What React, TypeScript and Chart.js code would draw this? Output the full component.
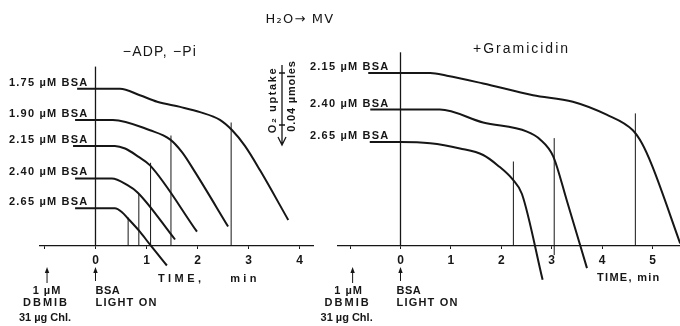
import React, { useEffect, useRef } from 'react';
import { Chart, registerables } from 'chart.js';

Chart.register(...registerables);

const FONT = '"Liberation Sans", Arial, Helvetica, sans-serif';
const INK = '#161616';

// ---------- Left panel: −ADP, −Pi (time in min, O2 trace in nmol above baseline) ----------
const leftTicks = [-1, 0, 1, 2, 3, 4];
const leftTickLabels = ['', '0', '1', '2', '3', '4'];
const leftBsa = ['1.75', '1.90', '2.15', '2.40', '2.65'];

const l175T = [-0.36, 0, 0.48, 0.87, 1.21, 1.66, 2.05, 2.44, 2.68, 2.93, 3.23, 3.78];
const l175Y = [121, 121, 121, 116, 111, 107, 103, 97, 89, 77, 58, 20];
const l190T = [-0.4, 0, 0.34, 1.07, 1.46, 1.7, 1.95, 2.6];
const l190Y = [97, 97, 97, 89, 82, 72, 57, 15];
const l215T = [-0.44, 0, 0.38, 0.58, 0.83, 1.07, 1.99];
const l215Y = [77, 77, 77, 75, 69, 62, 11];
const l240T = [-0.4, 0, 0.32, 0.62, 0.83, 1.56];
const l240Y = [52, 52, 52, 47, 41, 5];
const l265T = [-0.4, 0, 0.38, 0.52, 0.64, 0.87, 1.07, 1.4];
const l265Y = [29, 29, 29, 26, 21, 11, 1, -15];

const leftMarkT = [0.64, 0.85, 1.08, 1.48, 2.66];
const leftMarkTop = [22, 40, 64, 85, 95];
const leftMarkBottom = [0, 0, 0, 0, 0];
const leftLightLineTop = 138;

// ---------- Right panel: +Gramicidin ----------
const rightTicks = [-1, 0, 1, 2, 3, 4, 5];
const rightTickLabels = ['', '0', '1', '2', '3', '4', '5'];
const rightBsa = ['2.15', '2.40', '2.65'];

const r215T = [-0.64, 0, 0.59, 0.92, 1.64, 2.63, 3.42, 4.09, 4.61, 4.79, 4.99, 5.55];
const r215Y = [133, 133, 133, 131, 125, 116, 111, 101, 89, 79, 62, 2];
const r240T = [-0.6, 0, 0.78, 1.64, 2.51, 2.77, 3.03, 3.3, 3.7];
const r240Y = [105, 105, 105, 95, 88, 82, 69, 35, -17];
const r265T = [-0.61, 0, 0.59, 1.18, 1.64, 1.93, 2.23, 2.41, 2.82];
const r265Y = [80, 80, 79, 75, 70, 62, 51, 40, -26];

const rightMarkT = [2.24, 3.05, 4.66];
const rightMarkTop = [65, 83, 102];
const rightMarkBottom = [0, -7, 0];
const rightLightLineTop = 149;

// events
const dbmibTime = -0.95;
const lightTime = 0;
const scaleBarNmol = 40;

function pts(t: number[], y: number[]) {
  return t.map((v, i) => ({ x: v, y: y[i] }));
}

function txt(ctx: CanvasRenderingContext2D, s: string, x: number, y: number, o: any = {}) {
  ctx.save();
  ctx.font = `${o.weight ?? 'bold'} ${o.size ?? 11}px ${o.family ?? FONT}`;
  ctx.fillStyle = INK;
  ctx.textAlign = o.align ?? 'left';
  ctx.textBaseline = 'middle';
  (ctx as any).letterSpacing = `${o.ls ?? 0}px`;
  if (o.rotate) {
    ctx.translate(x, y);
    ctx.rotate(o.rotate);
    ctx.fillText(s, 0, 0);
  } else {
    ctx.fillText(s, x, y);
  }
  ctx.restore();
}

function upArrow(ctx: CanvasRenderingContext2D, x: number, yTip: number, yTail: number) {
  ctx.save();
  ctx.strokeStyle = INK;
  ctx.fillStyle = INK;
  ctx.lineWidth = 1;
  ctx.beginPath();
  ctx.moveTo(x, yTail);
  ctx.lineTo(x, yTip + 3);
  ctx.stroke();
  ctx.beginPath();
  ctx.moveTo(x, yTip);
  ctx.lineTo(x - 2.2, yTip + 6);
  ctx.lineTo(x + 2.2, yTip + 6);
  ctx.closePath();
  ctx.fill();
  ctx.restore();
}

function bottomNotes(ctx: CanvasRenderingContext2D, chart: any, dOff: number, lOff: number) {
  const xs = chart.scales.x;
  const xd = xs.getPixelForValue(dbmibTime);
  const xl = xs.getPixelForValue(lightTime);
  upArrow(ctx, xd, 267, 283);
  upArrow(ctx, xl, 267, 281);
  txt(ctx, '1 µM', xd + dOff + 1, 291, { align: 'center', ls: 1 });
  txt(ctx, 'DBMIB', xd + dOff, 303, { align: 'center', ls: 2 });
  txt(ctx, '31 µg Chl.', xd + dOff - 1, 318, { align: 'center', ls: 0 });
  txt(ctx, 'BSA', xl + lOff, 291, { ls: 0.5 });
  txt(ctx, 'LIGHT ON', xl + lOff, 303, { ls: 1.2 });
}

function baseDatasets(curves: { t: number[]; y: number[] }[], markT: number[], markTop: number[], markBottom: number[], lightTop: number) {
  const ds: any[] = [];
  ds.push({
    data: [{ x: lightTime, y: 0 }, { x: lightTime, y: lightTop }],
    borderColor: INK, borderWidth: 1.3, pointRadius: 0, clip: false, tension: 0,
  });
  markT.forEach((t, i) => {
    ds.push({
      data: [{ x: t, y: markBottom[i] }, { x: t, y: markTop[i] }],
      borderColor: INK, borderWidth: 1, pointRadius: 0, clip: false, tension: 0,
    });
  });
  curves.forEach((c) => {
    ds.push({
      data: pts(c.t, c.y),
      borderColor: INK, borderWidth: 2, pointRadius: 0, clip: false,
      cubicInterpolationMode: 'monotone', borderCapStyle: 'butt', borderJoinStyle: 'round',
    });
  });
  return ds;
}

function makeOptions(xMin: number, xMax: number, yMax: number, pad: any, ticks: number[], labels: string[]) {
  return {
    responsive: false,
    animation: false,
    events: [],
    layout: { padding: pad },
    plugins: { legend: { display: false }, tooltip: { enabled: false }, title: { display: false } },
    scales: {
      x: {
        type: 'linear',
        position: 'bottom',
        min: xMin,
        max: xMax,
        afterBuildTicks: (s: any) => { s.ticks = ticks.map((v) => ({ value: v })); },
        afterFit: (s: any) => { s.height = 80; },
        ticks: {
          autoSkip: false,
          maxRotation: 0,
          padding: 4,
          color: INK,
          font: { family: FONT, size: 12, weight: 'bold' },
          callback: (v: any) => { const i = ticks.indexOf(Number(v)); return i >= 0 ? labels[i] : ''; },
        },
        grid: { display: true, drawOnChartArea: false, drawTicks: true, tickLength: 3, color: INK, lineWidth: 1 },
        border: { display: true, color: INK, width: 1.3 },
      },
      y: { type: 'linear', min: 0, max: yMax, display: false },
    },
  };
}

export default function App() {
  const leftRef = useRef<HTMLCanvasElement>(null);
  const rightRef = useRef<HTMLCanvasElement>(null);

  useEffect(() => {
    const leftCurves = [
      { t: l175T, y: l175Y }, { t: l190T, y: l190Y }, { t: l215T, y: l215Y },
      { t: l240T, y: l240Y }, { t: l265T, y: l265Y },
    ];
    const rightCurves = [{ t: r215T, y: r215Y }, { t: r240T, y: r240Y }, { t: r265T, y: r265Y }];

    const leftNotes = {
      id: 'leftNotes',
      afterDraw(chart: any) {
        const ctx = chart.ctx as CanvasRenderingContext2D;
        const ys = chart.scales.y;
        txt(ctx, 'H₂O→ MV', 300, 20, { align: 'center', weight: 'normal', size: 13, ls: 1.2, family: '"DejaVu Sans", sans-serif' });
        txt(ctx, '−ADP, −Pi', 160, 52, { align: 'center', weight: 'normal', size: 14, ls: 1.2 });
        leftCurves.forEach((c, i) => {
          txt(ctx, `${leftBsa[i]} µM BSA`, 9, ys.getPixelForValue(c.y[0]) - 6, { ls: 1.2 });
        });
        // O2 uptake scale bar
        const bx = 282;
        const barTop = 73;
        const barLen = ys.getPixelForValue(0) - ys.getPixelForValue(scaleBarNmol);
        ctx.save();
        ctx.strokeStyle = INK;
        ctx.lineWidth = 1.3;
        ctx.beginPath();
        ctx.moveTo(bx, 65); ctx.lineTo(bx, 145);
        ctx.moveTo(bx - 4, 137); ctx.lineTo(bx, 145); ctx.lineTo(bx + 4, 137);
        ctx.moveTo(bx - 3, barTop); ctx.lineTo(bx + 3, barTop);
        ctx.moveTo(bx - 3, barTop + barLen); ctx.lineTo(bx + 3, barTop + barLen);
        ctx.stroke();
        ctx.restore();
        txt(ctx, 'O₂ uptake', 273, 100, { align: 'center', rotate: -Math.PI / 2, ls: 1.6 });
        txt(ctx, '0.04 µmoles', 292, 96, { align: 'center', rotate: -Math.PI / 2, ls: 0.8 });
        txt(ctx, 'TIME,    min', 158, 279, { ls: 3.4 });
        bottomNotes(ctx, chart, -1, 0);
      },
    };

    const rightNotes = {
      id: 'rightNotes',
      afterDraw(chart: any) {
        const ctx = chart.ctx as CanvasRenderingContext2D;
        const ys = chart.scales.y;
        txt(ctx, '+Gramicidin', 221.5, 49, { align: 'center', weight: 'normal', size: 14, ls: 2 });
        rightCurves.forEach((c, i) => {
          txt(ctx, `${rightBsa[i]} µM BSA`, 10, ys.getPixelForValue(c.y[0]) - 6, { ls: 1.2 });
        });
        txt(ctx, 'TIME, min', 297, 278, { ls: 1.3 });
        bottomNotes(ctx, chart, -5, -4);
      },
    };

    const left = new Chart(leftRef.current as HTMLCanvasElement, {
      type: 'line',
      data: { datasets: baseDatasets(leftCurves, leftMarkT, leftMarkTop, leftMarkBottom, leftLightLineTop) },
      options: makeOptions(-1.088, 4.265, 160, { left: 40, right: 27, top: 38, bottom: 0 }, leftTicks, leftTickLabels) as any,
      plugins: [leftNotes],
    });
    const right = new Chart(rightRef.current as HTMLCanvasElement, {
      type: 'line',
      data: { datasets: baseDatasets(rightCurves, rightMarkT, rightMarkTop, rightMarkBottom, rightLightLineTop) },
      options: makeOptions(-1.24, 5.546, 160, { left: 38, right: 0, top: 38, bottom: 0 }, rightTicks, rightTickLabels) as any,
      plugins: [rightNotes],
    });
    return () => { left.destroy(); right.destroy(); };
  }, []);

  return (
    <div style={{ position: 'absolute', left: 0, top: 0, width: 680, height: 326, background: '#fff', overflow: 'hidden' }}>
      <canvas ref={leftRef} width={340} height={326} style={{ position: 'absolute', left: 0, top: 0, display: 'block' }} />
      <canvas ref={rightRef} width={380} height={326} style={{ position: 'absolute', left: 300, top: 0, display: 'block' }} />
    </div>
  );
}
